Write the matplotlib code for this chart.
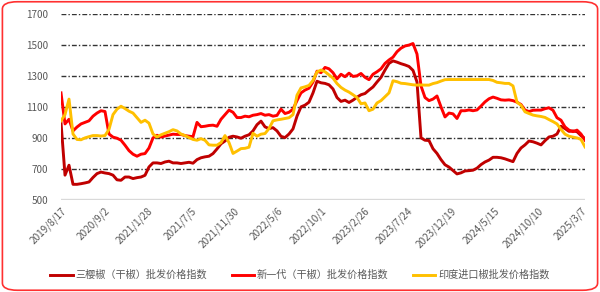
import numpy as np
import matplotlib
matplotlib.use('Agg')
import matplotlib.pyplot as plt
from matplotlib.patches import FancyBboxPatch

plt.rcParams['font.family'] = ['Noto Sans CJK SC', 'DejaVu Sans']

# tick labels along the category axis
date_labels = ['2019/8/17', '2020/9/2', '2021/1/28', '2021/7/5', '2021/11/30', '2022/5/6',
               '2022/10/1', '2023/2/26', '2023/7/24', '2023/12/19', '2024/5/15',
               '2024/10/10', '2025/3/7']

# 三樱椒（干椒）
sanying = [1000, 660, 724, 601, 601, 605, 610, 616, 645, 670,
           680, 674, 670, 660, 630, 627, 648, 648, 638, 644,
           648, 659, 713, 739, 739, 735, 745, 750, 739, 739,
           735, 739, 743, 737, 760, 772, 778, 782, 799, 829,
           862, 880, 904, 911, 906, 898, 911, 920, 945, 985,
           1008, 971, 960, 966, 945, 910, 902, 925, 958, 1040,
           1100, 1111, 1130, 1190, 1265, 1255, 1251, 1242, 1215, 1160,
           1135, 1143, 1128, 1143, 1162, 1178, 1186, 1208, 1228, 1260,
           1290, 1337, 1380, 1396, 1388, 1378, 1370, 1360, 1335, 1260,
           900, 885, 883, 830, 800, 760, 727, 712, 690, 668,
           675, 687, 689, 692, 705, 728, 745, 757, 775, 775,
           772, 765, 756, 747, 800, 835, 855, 880, 875, 866,
           855, 882, 906, 911, 925, 975, 960, 942, 945, 940,
           915, 895]

# 新一代（干椒）
xinyidai = [1190, 990, 1020, 945, 970, 990, 1000, 1010, 1040, 1060,
            1075, 1070, 925, 905, 898, 885, 853, 818, 795, 782,
            795, 799, 835, 900, 917, 905, 912, 918, 924, 922,
            922, 915, 911, 908, 1000, 972, 975, 980, 982, 975,
            1020, 1050, 1079, 1065, 1031, 1031, 1040, 1036, 1046, 1050,
            1057, 1046, 1050, 1040, 1045, 1085, 1057, 1065, 1085, 1140,
            1190, 1208, 1220, 1260, 1330, 1320, 1354, 1345, 1320, 1280,
            1310, 1294, 1317, 1296, 1300, 1315, 1290, 1275, 1310, 1326,
            1345, 1380, 1402, 1420, 1455, 1478, 1492, 1498, 1508, 1440,
            1235, 1160, 1140, 1150, 1170, 1100, 1035, 1060, 1055, 1025,
            1075, 1075, 1080, 1075, 1080, 1105, 1132, 1152, 1163, 1155,
            1145, 1143, 1145, 1140, 1130, 1115, 1079, 1070, 1078, 1079,
            1079, 1088, 1094, 1078, 1030, 1014, 971, 950, 940, 950,
            925, 885]

# 印度进口椒
yindu = [1010, 1050, 1150, 925, 890, 888, 900, 908, 915, 915,
         912, 915, 955, 1050, 1085, 1104, 1089, 1072, 1060, 1030,
         1000, 1014, 995, 925, 906, 920, 930, 940, 953, 945,
         925, 915, 902, 890, 885, 895, 885, 855, 853, 853,
         870, 915, 870, 800, 815, 831, 833, 840, 930, 911,
         924, 928, 960, 1010, 1016, 1020, 1025, 1030, 1050, 1175,
         1222, 1229, 1238, 1270, 1325, 1337, 1326, 1306, 1285, 1250,
         1225, 1208, 1195, 1178, 1160, 1120, 1125, 1075, 1085, 1125,
         1140, 1165, 1190, 1268, 1262, 1252, 1250, 1246, 1242, 1240,
         1241, 1240, 1240, 1250, 1256, 1266, 1275, 1276, 1276, 1276,
         1276, 1276, 1276, 1276, 1276, 1276, 1276, 1276, 1270, 1258,
         1255, 1251, 1251, 1235, 1130, 1110, 1068, 1057, 1047, 1042,
         1038, 1032, 1018, 1005, 990, 955, 924, 911, 905, 900,
         890, 842]

names = ['三樱椒（干椒）批发价格指数', '新一代（干椒）批发价格指数', '印度进口椒批发价格指数']
colors = ['#C00000', '#FF0000', '#FFC000']

n = len(sanying)
x = np.arange(n)

fig = plt.figure(figsize=(6, 2.92), dpi=100)
# rounded red frame around the whole chart
fig.patches.append(FancyBboxPatch((0.004, 0.006), 0.992, 0.988,
                                  boxstyle='round,pad=0,rounding_size=0.025',
                                  transform=fig.transFigure, fill=False,
                                  edgecolor='#FF3030', linewidth=1.2))

ax = fig.add_axes([61 / 600, 1 - 200 / 292, 524 / 600, (200 - 13.7) / 292])

for yv in [700, 900, 1100, 1300, 1500, 1700]:
    ax.axhline(yv, color='#333333', lw=1.0, dashes=(3.5, 1.5, 1, 1.5), zorder=1)
ax.axhline(500, color='#D9D9D9', lw=2.4, zorder=1)

for s, c, lab in zip([sanying, xinyidai, yindu], colors, names):
    ax.plot(x, s, color=c, lw=2.1, label=lab, zorder=3, solid_joinstyle='round')

ax.set_ylim(500, 1700)
ax.set_xlim(0, n - 1)
ax.set_yticks([500, 700, 900, 1100, 1300, 1500, 1700])
ax.set_xticks(np.linspace(0, n - 2, len(date_labels)))
ax.set_xticklabels(date_labels, rotation=45, ha='right', rotation_mode='anchor')
ax.tick_params(axis='both', length=0, labelsize=7.2, colors='#595959')
ax.tick_params(axis='y', pad=9)
ax.tick_params(axis='x', pad=4)
for sp in ax.spines.values():
    sp.set_visible(False)

fig.legend(loc='center', bbox_to_anchor=(0.5, 1 - 275 / 292), ncol=3, frameon=False,
           fontsize=7.3, handlelength=2.2, handletextpad=0.3, columnspacing=2.4,
           labelcolor='#595959')

fig.savefig('out.png', dpi=100)
